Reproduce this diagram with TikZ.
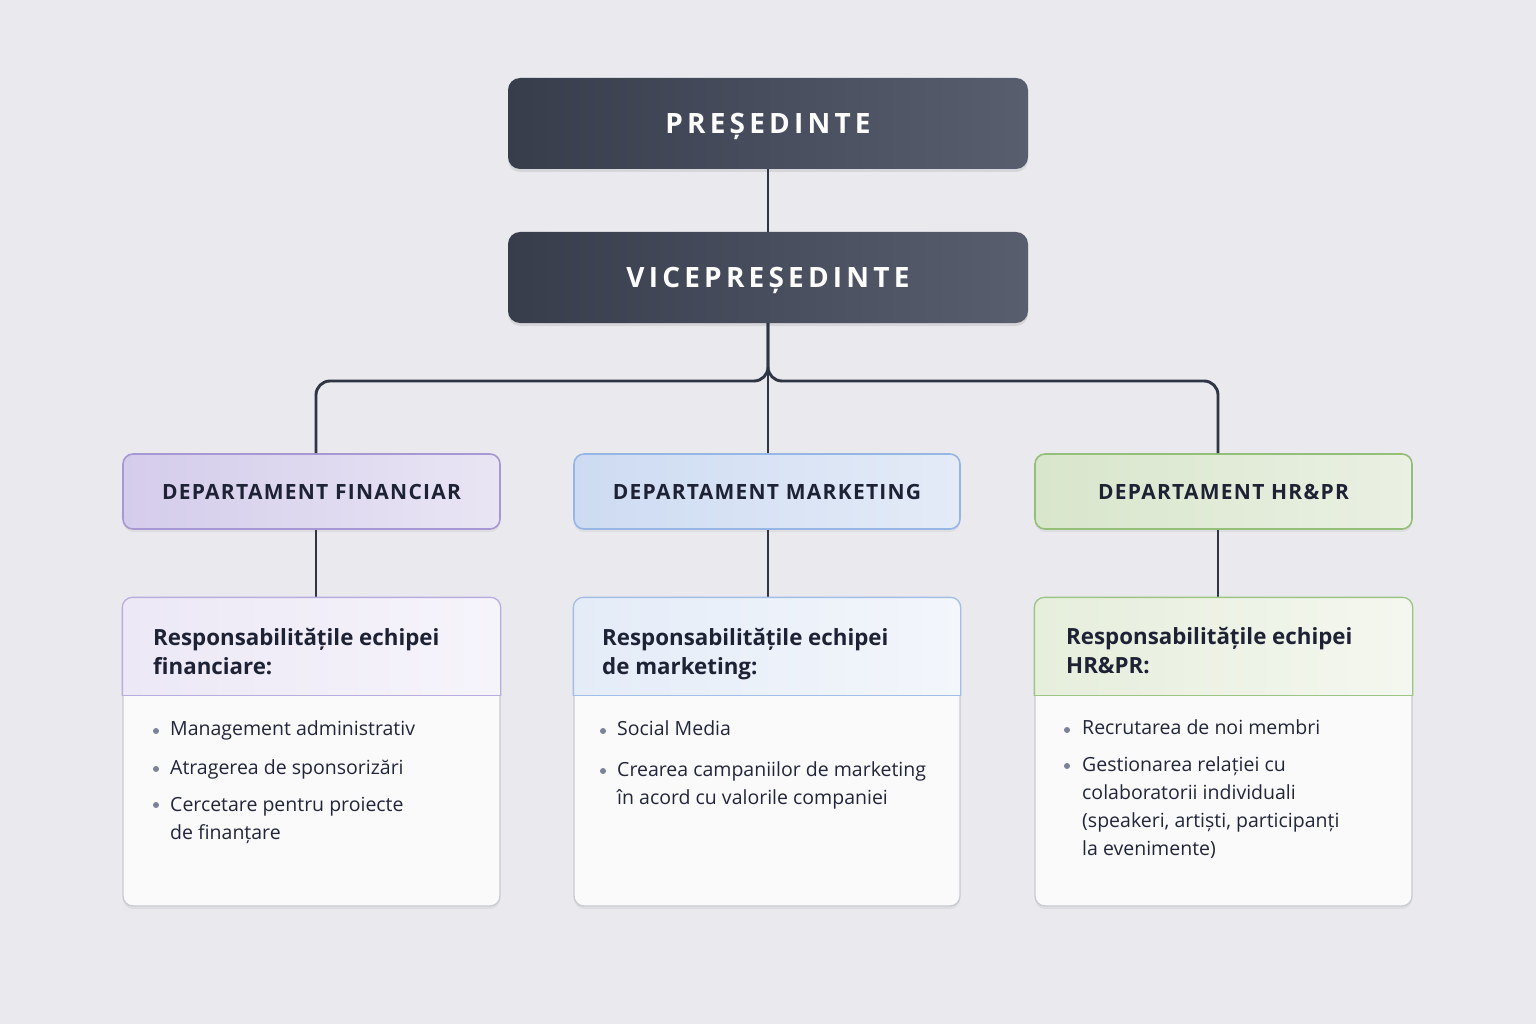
\documentclass[tikz,border=0pt]{standalone}
\usepackage{fontspec}
\setmainfont{Open Sans}
\newfontfamily\titlefont[LetterSpace=15]{Open Sans}
\newfontfamily\deptfont[LetterSpace=6]{Open Sans}
\usetikzlibrary{calc,shadows}
\definecolor{bg}{HTML}{E9E9EE}
\definecolor{darkA}{HTML}{373D4B}
\definecolor{darkB}{HTML}{585E6E}
\definecolor{linec}{HTML}{2F3542}
\definecolor{txt}{HTML}{1E2235}
\definecolor{bodytxt}{HTML}{22263A}
\definecolor{dotc}{HTML}{7C8298}
\definecolor{grayb}{HTML}{C9CBD3}
\definecolor{bodyfill}{HTML}{FAFAFB}
% financial
\definecolor{finA}{HTML}{D4CCEB}
\definecolor{finB}{HTML}{E9E5F4}
\definecolor{finD}{HTML}{A797D2}
\definecolor{finHA}{HTML}{ECE8F6}
\definecolor{finHB}{HTML}{F6F4FB}
\definecolor{finR}{HTML}{B8ADDD}
% marketing
\definecolor{mkA}{HTML}{CDDBF2}
\definecolor{mkB}{HTML}{E4EBF7}
\definecolor{mkD}{HTML}{98B6E5}
\definecolor{mkHA}{HTML}{E4ECF8}
\definecolor{mkHB}{HTML}{F3F6FB}
\definecolor{mkR}{HTML}{A2BEE7}
% hr
\definecolor{hrA}{HTML}{D8E6CB}
\definecolor{hrB}{HTML}{EAF0E3}
\definecolor{hrD}{HTML}{93BF78}
\definecolor{hrHA}{HTML}{E6EEDC}
\definecolor{hrHB}{HTML}{F4F7EF}
\definecolor{hrR}{HTML}{9CC484}
\tikzset{
  topbox/.style={rounded corners=12pt, minimum width=520pt, minimum height=91pt,
    left color=darkA, right color=darkB, text=white, inner sep=0pt,
    text height=20pt, text depth=0pt,
    drop shadow={opacity=0.18, shadow xshift=0pt, shadow yshift=-3pt},
    font=\titlefont\bfseries\fontsize{28}{32}\selectfont},
  deptbox/.style={rounded corners=10pt, minimum width=377pt, minimum height=75pt,
    line width=1.6pt, text=txt, inner sep=0pt, text height=15pt, text depth=0pt,
    drop shadow={opacity=0.10, shadow xshift=0pt, shadow yshift=-3pt},
    font=\deptfont\bfseries\fontsize{21}{24}\selectfont},
  respbox/.style={rounded corners=10pt, minimum height=308pt,
    draw=grayb, line width=1.3pt, fill=bodyfill, inner sep=0pt,
    drop shadow={opacity=0.10, shadow xshift=0pt, shadow yshift=-3pt}},
  conn/.style={draw=linec, line width=2.9pt},
  head/.style={anchor=base west, inner sep=0pt, align=left, text=txt,
    font=\bfseries\fontsize{22.3}{29}\selectfont},
  item/.style={anchor=base west, inner sep=0pt, align=left, text=bodytxt,
    font=\fontsize{19.5}{28}\selectfont},
  bul/.style={circle, fill=dotc, inner sep=0pt, minimum size=6pt}
}
\begin{document}
\begin{tikzpicture}[x=1pt,y=-1pt]
\fill[bg] (0,0) rectangle (1536,1024);
\useasboundingbox (0,0) rectangle (1536,1024);

% top boxes
\node[topbox] (pres) at (768,123.5) {PREȘEDINTE};
\node[topbox] (vice) at (768,277.5) {VICEPREȘEDINTE};

% departments
\node[deptbox, draw=finD, left color=finA, right color=finB] (dfin) at (311.5,491.5) {DEPARTAMENT FINANCIAR};
\node[deptbox, draw=mkD, left color=mkA, right color=mkB, minimum width=386pt] (dmk) at (767,491.5) {DEPARTAMENT MARKETING};
\node[deptbox, draw=hrD, left color=hrA, right color=hrB] (dhr) at (1223.5,491.5) {DEPARTAMENT HR\&PR};

% connectors
\draw[conn] (pres.south) -- (vice.north);
\draw[conn, rounded corners=14pt] (vice.south) -- (768,381) -- (316,381) -- ([xshift=4.5pt]dfin.north);
\draw[conn, rounded corners=14pt] (vice.south) -- (768,381) -- (1218,381) -- ([xshift=-5.5pt]dhr.north);
\draw[conn] (vice.south) -- ([xshift=1pt]dmk.north);

% responsibility boxes
\node[respbox, minimum width=377pt] (rfin) at (311.5,752) {};
\node[respbox, minimum width=386pt] (rmk) at (767,752) {};
\node[respbox, minimum width=377pt] (rhr) at (1223.5,752) {};

\draw[conn] ([xshift=4.5pt]dfin.south) -- ([xshift=4.5pt]rfin.north);
\draw[conn] ([xshift=1pt]dmk.south) -- ([xshift=1pt]rmk.north);
\draw[conn] ([xshift=-5.5pt]dhr.south) -- ([xshift=-5.5pt]rhr.north);

% headers
\foreach \b/\ha/\hb/\bc in {rfin/finHA/finHB/finR, rmk/mkHA/mkHB/mkR, rhr/hrHA/hrHB/hrR}{
  \begin{scope}
    \clip ($(\b.north west)+(-3,-3)$) rectangle ($(\b.north east)+(3,98)$);
    \fill[rounded corners=10pt, left color=\ha, right color=\hb] (\b.north west) rectangle (\b.south east);
    \draw[rounded corners=10pt, draw=\bc, line width=1.3pt] (\b.north west) rectangle (\b.south east);
  \end{scope}
  \draw[draw=\bc, line width=1.3pt] ($(\b.north west)+(0,98)$) -- ($(\b.north east)+(0,98)$);
}

% header texts (base = baseline of last line)
\node[head] (hfin) at (153,674) {Responsabilitățile echipei\\financiare:};
\node[head] (hmk) at (602,674) {Responsabilitățile echipei\\de marketing:};
\node[head] (hhr) at (1066,673) {Responsabilitățile echipei\\HR\&PR:};

% financial items
\node[bul] (bf1) at (156,731) {};
\node[item] (if1) at (170,735) {Management administrativ};
\node[bul] (bf2) at (156,769) {};
\node[item] (if2) at (170,774) {Atragerea de sponsorizări};
\node[bul] (bf3) at (156,805) {};
\node[item] (if3) at (170,839) {Cercetare pentru proiecte\\de finanțare};

% marketing items
\node[bul] (bm1) at (603,731) {};
\node[item] (im1) at (617,735) {Social Media};
\node[bul] (bm2) at (603,771) {};
\node[item] (im2) at (617,804) {Crearea campaniilor de marketing\\în acord cu valorile companiei};

% hr items
\node[bul] (bh1) at (1067,730) {};
\node[item] (ih1) at (1082,734) {Recrutarea de noi membri};
\node[bul] (bh2) at (1067,766) {};
\node[item] (ih2) at (1082,855) {Gestionarea relației cu\\colaboratorii individuali\\(speakeri, artiști, participanți\\la evenimente)};
\end{tikzpicture}
\end{document}
